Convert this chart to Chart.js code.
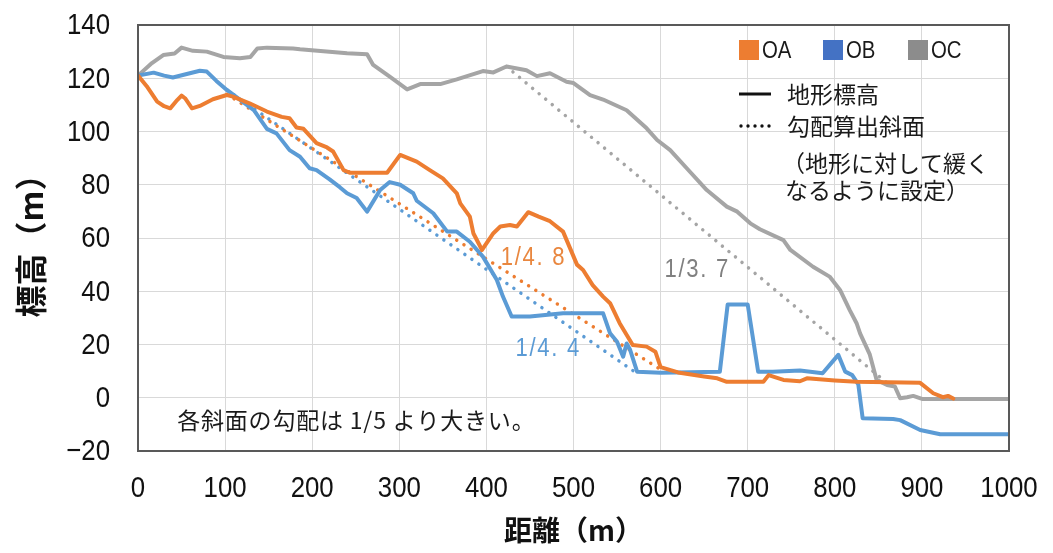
<!DOCTYPE html>
<html><head><meta charset="utf-8">
<script src="https://cdn.jsdelivr.net/npm/chart.js@4.4.1/dist/chart.umd.min.js"></script>
<style>html,body{margin:0;padding:0;background:#fff;}#wrap{width:1053px;height:553px;}</style>
</head><body><div id="wrap"><canvas id="c" width="1053" height="553"></canvas></div>
<script>
// ---- data ----
const xTickValues = [0,100,200,300,400,500,600,700,800,900,1000];
const yTickValues = [-20,0,20,40,60,80,100,120,140];

const oaX = [0,10,22,30,37,45,50,54,62,71,86,102,109,128,148,165,174,182,190,205,217,224,236,243,286,301,320,335,350,366,370,381,385,395,408,416,427,435,448,460,473,488,504,511,522,534,542,553,568,584,594,600,620,650,665,676,691,718,724,741,760,768,800,825,898,913,924,930,936];
const oaY = [121,117,111.2,109.5,108.7,111.8,113.5,112.5,108.7,109.6,112.1,113.7,113.1,110.6,107.5,105.5,105,101.5,101,95.6,94,92.5,85.5,84.5,84.5,91.2,88.7,85.5,82.4,76.8,73,68,61.8,55.5,61.8,64.3,64.9,64.3,69.7,68,66.3,62.4,50,48,42.3,38,35.5,28,19.8,19.2,17.3,11.5,9.5,8,7.3,6,6,6,8.5,6.7,6.2,7.3,6.5,6,5.6,1.7,0.2,0.7,-0.3];

const obX = [0,18,30,40,56,71,79,90,102,133,148,159,174,186,197,205,220,232,240,251,263,278,289,301,316,320,339,355,366,381,396,412,419,429,450,488,534,542,550,557,561,565,573,600,668,677,700,712,729,760,786,804,812,820,827,832,867,875,898,921,1000];
const obY = [121,122.1,121,120.3,121.6,122.8,122.5,119,115.6,108,101,99.3,93,90.5,86.2,85.5,82,79,76.8,75,69.9,78,81,80,76.8,74,69.3,62.4,62.4,58.6,53,44.2,38,30.5,30.5,31.7,31.7,24.2,21,15.4,20.4,18,9.8,9.4,9.8,35,35,9.8,9.8,10.2,9.2,16.1,9.8,8.5,5,-7.7,-8,-8.4,-12.1,-13.7,-13.7];

const ocX = [0,16,29,42,50,63,79,98,117,129,137,148,178,186,240,263,270,289,309,324,347,366,396,408,423,446,458,473,492,500,519,534,561,584,596,611,630,653,676,688,703,714,741,749,775,794,806,817,825,829,840,848,860,869,875,883,890,901,1000];
const ocY = [121,125.7,128.7,129.3,131.5,130.3,130,128,127.5,128,131.2,131.5,131.2,130.9,129.4,129,125,120.6,115.8,117.8,117.8,119.6,122.7,122.2,124.4,123,120.8,121.9,118.7,118.2,113.7,112,108,101.2,96.8,93,86.2,78,71.8,69.9,65.5,63.3,59.2,55.5,49.2,45.5,40.5,33,28,24.2,16.4,6.7,4.8,4.2,-0.2,0.2,0.7,-0.5,-0.5];

// slope lines used for gradient calculation (start / end)
const oaSlopeX = [102,598];  const oaSlopeY = [114,11];
const obSlopeX = [102,570];  const obSlopeY = [115.6,9.8];
const ocSlopeX = [423,862];  const ocSlopeY = [124.4,5];

const seriesNames = ['OA','OB','OC'];
const slopeLabels = ['1/4. 8','1/4. 4','1/3. 7'];
const slopeLabelPos = [[454,52.5],[471,18.3],[642,48]];
const noteText = '各斜面の勾配は 1/5 より大きい。';
const notePos = [45,-8.4];
const legendLine1 = '地形標高';
const legendLine2 = ['勾配算出斜面','（地形に対して緩く','なるように設定）'];
const xTitle = '距離（m）';
const yTitle = '標高（m）';

// ---- styling ----
const lineColors = ['#ED7D31','#5B9BD5','#A5A5A5'];
const legendColors = ['#ED7D31','#4472C4','#8C8C8C'];
const labelColors = ['#E9873F','#5B9BD5','#808080'];
const NUM_FONT = "'Liberation Sans',Arial,sans-serif";
const JP_FONT = "'Noto Sans CJK JP','Noto Sans',sans-serif";

function pts(xs, ys){ return xs.map((x,i)=>({x:x, y:ys[i]})); }

function solid(i, xs, ys){
  return {label: seriesNames[i], data: pts(xs,ys), borderColor: lineColors[i], borderWidth: 4,
    pointRadius: 0, tension: 0, borderJoinStyle:'round', borderCapStyle:'round', fill:false};
}
function dotted(i, xs, ys){
  return {label: seriesNames[i]+' slope', data: pts(xs,ys), borderColor: lineColors[i], borderWidth: 3.5,
    borderDash:[0.01,8.5], borderCapStyle:'round', pointRadius:0, tension:0, fill:false};
}

function narrowText(ctx, text, x, y, align, sx){
  ctx.save(); ctx.translate(x, y); ctx.scale(sx, 1); ctx.textAlign = align; ctx.fillText(text, 0, 0); ctx.restore();
}
function fmt(v){ return String(v).replace('-', '\u2212'); }

const overlay = {
  id:'overlay',
  afterDatasetsDraw(chart){
    const {ctx, chartArea:a} = chart;
    ctx.save();
    ctx.strokeStyle = '#595959'; ctx.lineWidth = 2;
    ctx.strokeRect(a.left, a.top, a.right-a.left, a.bottom-a.top);
    ctx.restore();
  },
  afterDraw(chart){
    const {ctx, chartArea:a, scales:{x,y}} = chart;
    ctx.save();
    ctx.textBaseline='middle';
    // tick labels (condensed)
    ctx.fillStyle = '#111';
    ctx.font = "30px " + NUM_FONT;
    y.ticks.forEach(t => narrowText(ctx, fmt(t.value), a.left - 28, y.getPixelForValue(t.value) + 1, 'right', 0.86));
    x.ticks.forEach(t => narrowText(ctx, fmt(t.value), x.getPixelForValue(t.value), a.bottom + 38, 'center', 0.86));
    // slope labels
    ctx.font = "26px " + NUM_FONT;
    ctx.letterSpacing = '2px';
    slopeLabels.forEach((t,i)=>{
      ctx.fillStyle = labelColors[i];
      narrowText(ctx, t, x.getPixelForValue(slopeLabelPos[i][0]), y.getPixelForValue(slopeLabelPos[i][1]), 'center', 0.85);
    });
    ctx.letterSpacing = '0px';
    // note
    ctx.fillStyle='#1a1a1a';
    ctx.font = "23px " + JP_FONT;
    ctx.letterSpacing = '0.8px';
    ctx.textAlign='left';
    ctx.fillText(noteText, x.getPixelForValue(notePos[0]), y.getPixelForValue(notePos[1]));
    ctx.letterSpacing = '0px';
    // legend
    const lx = a.right - 270;
    ctx.font = "24px " + NUM_FONT;
    const sqX = [lx, lx+84, lx+169];
    seriesNames.forEach((n,i)=>{
      ctx.fillStyle = legendColors[i];
      ctx.fillRect(sqX[i], a.top+15, 20, 20);
      ctx.fillStyle = '#1a1a1a';
      narrowText(ctx, n, sqX[i]+23, a.top+26, 'left', 0.85);
    });
    ctx.strokeStyle='#111'; ctx.lineWidth=3;
    ctx.beginPath(); ctx.moveTo(lx, a.top+69); ctx.lineTo(lx+32, a.top+69); ctx.stroke();
    ctx.fillStyle='#111';
    for(let k=0;k<5;k++){ ctx.beginPath(); ctx.arc(lx+2+k*7, a.top+101, 1.7, 0, Math.PI*2); ctx.fill(); }
    ctx.font = "23px " + JP_FONT;
    ctx.fillStyle='#1a1a1a';
    ctx.textAlign='left';
    ctx.fillText(legendLine1, lx+48, a.top+69);
    ctx.fillText(legendLine2[0], lx+48, a.top+101);
    ctx.fillText(legendLine2[1], lx+43, a.top+138);
    ctx.fillText(legendLine2[2], lx+46, a.top+165);
    ctx.restore();
  }
};

new Chart(document.getElementById('c'), {
  type:'line',
  data:{ datasets:[
    solid(0, oaX, oaY), solid(1, obX, obY), solid(2, ocX, ocY),
    dotted(0, oaSlopeX, oaSlopeY), dotted(1, obSlopeX, obSlopeY), dotted(2, ocSlopeX, ocSlopeY)
  ]},
  options:{
    responsive:false, animation:false, devicePixelRatio:1,
    layout:{padding:{left:0, top:25, right:44, bottom:0}},
    plugins:{legend:{display:false}, tooltip:{enabled:false}},
    scales:{
      x:{type:'linear', min:0, max:1000,
        afterBuildTicks: s => { s.ticks = xTickValues.map(v=>({value:v})); },
        afterFit: s => { s.height = 102; s.paddingLeft = 0; s.paddingRight = 0; },
        grid:{color:'#D9D9D9', lineWidth:1, drawTicks:false},
        border:{display:false},
        ticks:{display:false},
        title:{display:true, text:xTitle, color:'#111', font:{family:JP_FONT, size:28, weight:'bold'}, padding:{top:0,bottom:6}}
      },
      y:{type:'linear', min:-20, max:140,
        afterBuildTicks: s => { s.ticks = yTickValues.map(v=>({value:v})); },
        afterFit: s => { s.width = 138; s.paddingTop = 0; s.paddingBottom = 0; },
        grid:{color:'#D9D9D9', lineWidth:1, drawTicks:false},
        border:{display:false},
        ticks:{display:false},
        title:{display:true, text:yTitle, color:'#111', font:{family:JP_FONT, size:32, weight:'bold'}, padding:{top:12,bottom:0}}
      }
    }
  },
  plugins:[overlay]
});
</script></body></html>
